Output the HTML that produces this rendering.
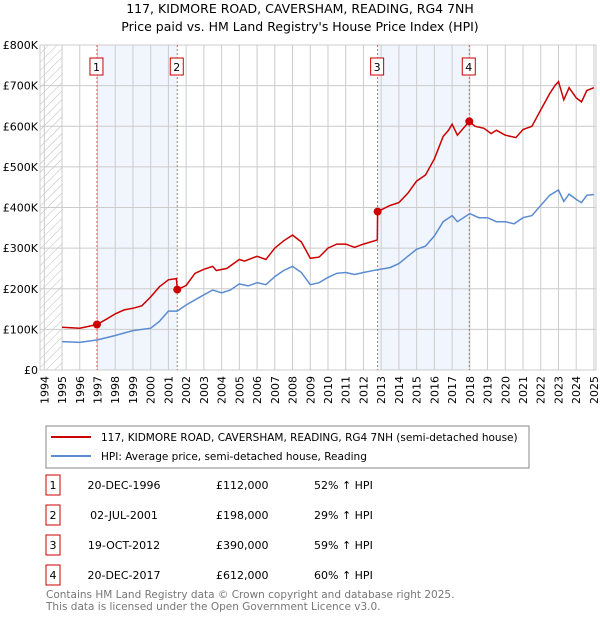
<!DOCTYPE html>
<html><head><meta charset="utf-8"><style>
body{margin:0;background:#fff;font-family:"Liberation Sans","DejaVu Sans",sans-serif;}
svg text{font-family:"DejaVu Sans","Liberation Sans",sans-serif;}
</style></head><body>
<svg id="c" width="600" height="620" xmlns="http://www.w3.org/2000/svg">
<text x="300" y="13" text-anchor="middle" font-size="12.5">117, KIDMORE ROAD, CAVERSHAM, READING, RG4 7NH</text>
<text x="300" y="31" text-anchor="middle" font-size="12.5">Price paid vs. HM Land Registry's House Price Index (HPI)</text>
<defs><pattern id="h" width="6" height="6" patternUnits="userSpaceOnUse" patternTransform="rotate(45)"><line x1="0" y1="0" x2="0" y2="6" stroke="#bbb" stroke-width="1"/></pattern></defs>
<g id="plot"></g>
<rect x="46" y="426" width="483" height="42" fill="#fff" stroke="#888"/>
<line x1="51" y1="437" x2="91" y2="437" stroke="#cc0000" stroke-width="2"/>
<text x="101" y="441" font-size="10.5">117, KIDMORE ROAD, CAVERSHAM, READING, RG4 7NH (semi-detached house)</text>
<line x1="51" y1="456" x2="91" y2="456" stroke="#5b8bd0" stroke-width="2"/>
<text x="101" y="460" font-size="10.5">HPI: Average price, semi-detached house, Reading</text>
<g id="tbl" font-size="11"></g>
<text x="46" y="598" font-size="10.5" fill="#777">Contains HM Land Registry data © Crown copyright and database right 2025.</text>
<text x="46" y="610" font-size="10.5" fill="#777">This data is licensed under the Open Government Licence v3.0.</text>
</svg>
<script>
const hpiYears=[1995,1996,1997,1998,1999,2000,2000.5,2001,2001.5,2002,2003,2003.5,2004,2004.5,2005,2005.5,2006,2006.5,2007,2007.5,2008,2008.5,2009,2009.5,2010,2010.5,2011,2011.5,2012,2012.8,2013.5,2014,2014.5,2015,2015.5,2016,2016.5,2017,2017.3,2018,2018.5,2019,2019.5,2020,2020.5,2021,2021.5,2022,2022.5,2023,2023.3,2023.6,2024,2024.3,2024.6,2025];
const hpiValues=[70,68,74,85,97,103,120,145,145,160,185,197,190,197,212,207,215,210,230,245,255,240,210,215,228,238,240,235,240,247,252,262,280,297,305,330,365,380,365,385,375,375,365,365,360,375,380,405,430,443,415,433,420,412,430,432];
const propYears=[1995,1996,1996.97,1997.5,1998,1998.5,1999,1999.5,2000,2000.5,2001,2001.45,2001.5,2002,2002.5,2003,2003.5,2003.7,2004.3,2005,2005.3,2006,2006.5,2007,2007.5,2008,2008.5,2009,2009.5,2010,2010.5,2011,2011.5,2012,2012.78,2012.8,2013.5,2014,2014.5,2015,2015.5,2016,2016.5,2016.8,2017,2017.3,2017.97,2018.3,2018.8,2019.2,2019.5,2020,2020.6,2021,2021.5,2022,2022.5,2022.8,2023,2023.3,2023.6,2024,2024.3,2024.6,2025];
const propValues=[105,103,112,125,138,148,152,158,180,205,222,225,198,208,238,248,255,245,250,272,268,280,272,300,318,332,315,275,278,300,310,310,302,310,320,390,405,412,435,465,480,520,575,590,605,578,612,600,595,582,590,578,572,592,600,640,680,700,710,665,695,670,660,688,695];
const saleYears=[1996.97,2001.5,2012.8,2017.97];
const saleValues=[112,198,390,612];
const saleLabels=["1","2","3","4"];
const saleDates=["20-DEC-1996","02-JUL-2001","19-OCT-2012","20-DEC-2017"];
const salePrices=["£112,000","£198,000","£390,000","£612,000"];
const salePcts=["52% ↑ HPI","29% ↑ HPI","59% ↑ HPI","60% ↑ HPI"];
const yTicks=[0,100,200,300,400,500,600,700,800];
const yTickLabels=["£0","£100K","£200K","£300K","£400K","£500K","£600K","£700K","£800K"];
const xTicks=[];for(let y=1994;y<=2025;y++)xTicks.push(y);
const NS="http://www.w3.org/2000/svg";
const L=40,R=596,T=45,B=370;
const X=y=>44.3+(y-1994)*17.73;
const Y=v=>B-v*(B-T)/800;
const g=document.getElementById('plot');
function mk(t,a,p){const e=document.createElementNS(NS,t);for(const k in a)e.setAttribute(k,a[k]);(p||g).appendChild(e);return e;}
let e;
e=mk('rect',{x:L,y:T,width:X(1995)-L,height:B-T,fill:'url(#h)'});


for(let i=0;i<4;i+=2){e=mk('rect',{x:X(saleYears[i]),y:T,width:X(saleYears[i+1])-X(saleYears[i]),height:B-T,fill:'#eef3fc',opacity:0.8});

}
xTicks.forEach(y=>{e=mk('line',{x1:X(y),x2:X(y),y1:T,y2:B,stroke:'#ccc','stroke-width':1});


const t=mk('text',{x:0,y:0,'font-size':11,'text-anchor':'end',transform:`translate(${X(y)+4},${B+6}) rotate(-90)`});t.textContent=y;

});
yTicks.forEach((v,i)=>{e=mk('line',{x1:L,x2:R,y1:Y(v),y2:Y(v),stroke:'#ccc','stroke-width':1});


const t=mk('text',{x:L-2,y:Y(v)+4,'font-size':11,'text-anchor':'end'});t.textContent=yTickLabels[i];

});
e=mk('rect',{x:L,y:T,width:R-L,height:B-T,fill:'none',stroke:'#ccc'});


saleYears.forEach((s,i)=>{e=mk('line',{x1:X(s),x2:X(s),y1:T,y2:B,stroke:'#e06060','stroke-dasharray':'2,2','stroke-width':1});


e=mk('rect',{x:X(s)-7,y:58,width:13,height:17,fill:'#fff',stroke:'#cc0000'});


const t=mk('text',{x:X(s)-0.5,y:71,'font-size':11,'text-anchor':'middle'});t.textContent=saleLabels[i];

});
const path=(xs,vs)=>xs.map((x,i)=>(i?'L':'M')+X(x).toFixed(1)+','+Y(vs[i]).toFixed(1)).join('');
e=mk('path',{d:path(hpiYears,hpiValues),fill:'none',stroke:'#5b8bd0','stroke-width':1.5});


e=mk('path',{d:path(propYears,propValues),fill:'none',stroke:'#cc0000','stroke-width':1.5});


saleYears.forEach((s,i)=>{e=mk('circle',{cx:X(s),cy:Y(saleValues[i]),r:4,fill:'#cc0000'});

});
const tb=document.getElementById('tbl');
saleLabels.forEach((l,i)=>{const y=483+i*30;
e=mk('rect',{x:46,y:y-8,width:14,height:20,fill:'#fff',stroke:'#cc0000'},tb);


const cols=[[53,l,'middle'],[124,saleDates[i],'middle'],[216,salePrices[i],'start'],[314,salePcts[i],'start']];
const names=['table-row-number','table-row-date','table-row-price','table-row-hpi-change'];
cols.forEach((c,j)=>{const t=mk('text',{x:c[0],y:y+6,'text-anchor':c[2]},tb);t.textContent=c[1];

});});
</script>
</body></html>
